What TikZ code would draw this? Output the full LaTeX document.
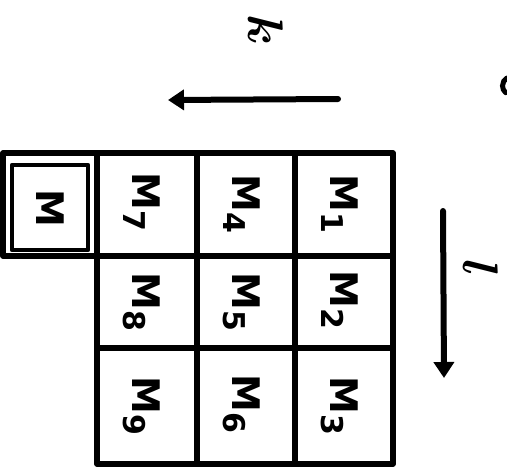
\documentclass[tikz,border=0pt]{standalone}
\usepackage{fontspec}
\usepackage{bm}
\usepackage{graphicx}
\setmainfont{DejaVu Sans}
\usetikzlibrary{arrows.meta}
\newcommand{\Msb}[1]{M{\fontsize{30}{30}\selectfont\raisebox{-9pt}{#1}}}
\tikzset{
  gridline/.style={line width=5.5pt, line cap=round, line join=round},
  entry/.style={rotate=-90, font=\fontsize{38}{38}\selectfont\bfseries, inner sep=0pt},
  axisarrow/.style={line width=6pt, line cap=round, -{Triangle[length=16pt,width=20pt]}},
  axislabel/.style={rotate=-90, inner sep=0pt}
}
\begin{document}
\begin{tikzpicture}[x=1pt,y=-1pt]
\useasboundingbox (0,0) rectangle (507,469);
% main 3x3 grid
\draw[gridline] (97,153) rectangle (393,464);
\draw[gridline] (197,153) -- (197,464);
\draw[gridline] (295,153) -- (295,464);
\draw[gridline] (97,256) -- (393,256);
\draw[gridline] (97,348) -- (393,348);
% boxed M cell
\draw[gridline] (97,153) -- (3,153) -- (3,256) -- (97,256);
\draw[line width=4.5pt, line join=round] (12,165) rectangle (88,250);
\node[entry] (m0) at (50,208) {M};
% entries
\node[entry] (m7) at (142,202) {\Msb{7}};
\node[entry] (m4) at (242,204) {\Msb{4}};
\node[entry] (m1) at (340,204) {\Msb{1}};
\node[entry] (m8) at (142,302) {\Msb{8}};
\node[entry] (m5) at (242,302) {\Msb{5}};
\node[entry] (m2) at (340,300) {\Msb{2}};
\node[entry] (m9) at (142,406) {\Msb{9}};
\node[entry] (m6) at (242,404) {\Msb{6}};
\node[entry] (m3) at (340,406) {\Msb{3}};
% arrows
\coordinate (ka) at (338,99);
\coordinate (kb) at (168,100);
\draw[axisarrow] (ka) -- (kb);
\node[axislabel] (klab) at (266,30) {\scalebox{5}{$\bm{k}$}};
\coordinate (la) at (443,211);
\coordinate (lb) at (444,378);
\draw[axisarrow] (la) -- (lb);
\node[axislabel] (llab) at (481,268) {\scalebox{5}{$\bm{l}$}};
% partial mark at right edge
\draw[line width=5pt, line cap=round] (507,78) arc[start angle=240, end angle=130, radius=9];
\end{tikzpicture}
\end{document}
